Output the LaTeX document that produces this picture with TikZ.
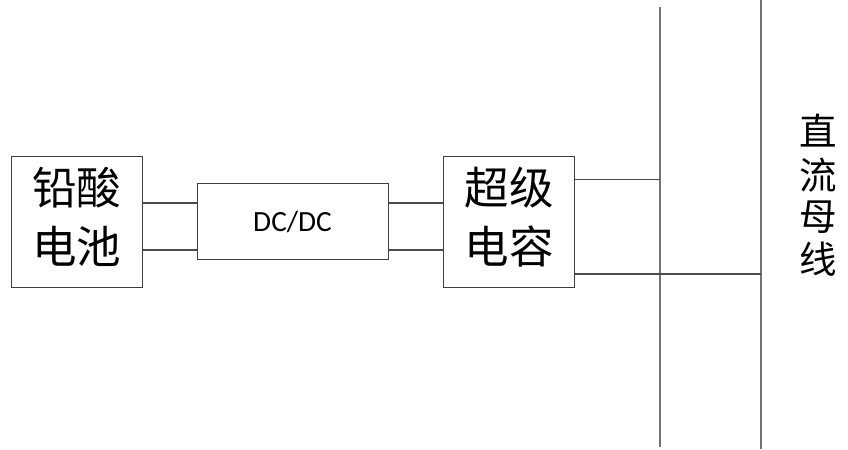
\documentclass[tikz,border=0pt]{standalone}
\usepackage{fontspec}
\setsansfont{Carlito}
\newfontfamily\cjk{Noto Sans CJK SC}
\begin{document}
\begin{tikzpicture}[x=0.03cm, y=-0.03cm]
\tikzset{boite/.style={draw=black!75, line width=0.9pt, inner sep=0pt, anchor=north west},
  fil/.style={draw=black!70, line width=0.9pt},
  barre/.style={draw=black!55, line width=1.4pt}}
\useasboundingbox (0,0) rectangle (848,449);
\node[boite, minimum width=3.93cm, minimum height=3.93cm] (bat) at (10.5,155.5)
  {\cjk\fontsize{38pt}{54pt}\selectfont\begin{tabular}{@{}c@{}}铅酸\\[-4pt]电池\end{tabular}};
\node[boite, minimum width=5.73cm, minimum height=2.28cm] (dcdc) at (196.5,183)
  {\sffamily\fontsize{25pt}{30pt}\selectfont DC/DC};
\node[boite, minimum width=3.93cm, minimum height=3.93cm] (cap) at (443,155.5)
  {\cjk\fontsize{38pt}{54pt}\selectfont\begin{tabular}{@{}c@{}}超级\\[-4pt]电容\end{tabular}};
\coordinate (B1h) at (660,7);
\coordinate (B1b) at (660,447);
\coordinate (B2h) at (761,0);
\coordinate (B2b) at (761,449);
\node[inner sep=0pt] (nom) at (818,200)
  {\cjk\fontsize{32pt}{33.5pt}\selectfont\begin{tabular}{@{}c@{}}直\\流\\母\\线\end{tabular}};
\draw[barre] (B1h) -- (B1b);
\draw[barre] (B2h) -- (B2b);
\draw[fil] (bat.east |- 0,203) -- (dcdc.west |- 0,203);
\draw[fil] (bat.east |- 0,250) -- (dcdc.west |- 0,250);
\draw[fil] (dcdc.east |- 0,203) -- (cap.west |- 0,203);
\draw[fil] (dcdc.east |- 0,250) -- (cap.west |- 0,250);
\draw[fil] (cap.east |- 0,179.5) -- (B1h |- 0,179.5);
\draw[fil] (cap.east |- 0,274) -- (B2h |- 0,274);
\end{tikzpicture}
\end{document}
